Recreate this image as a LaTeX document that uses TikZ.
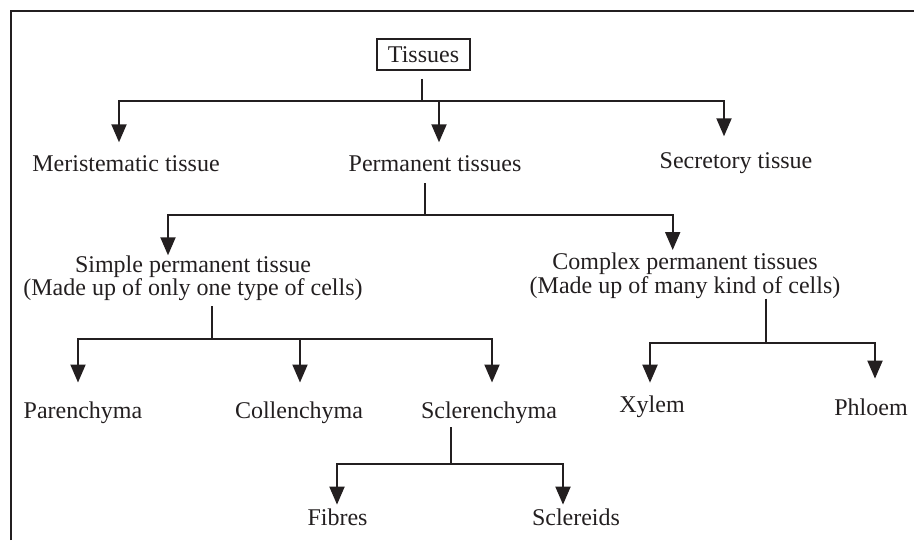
\documentclass[tikz,border=0pt]{standalone}
\usepackage{fontspec}
\setmainfont{Liberation Serif}
\usetikzlibrary{arrows.meta}
\definecolor{ink}{HTML}{231F20}

\begin{document}
\begin{tikzpicture}[x=0.5pt, y=-0.5pt,
    lbl/.style={font=\fontsize{12}{11.7}\selectfont, text=ink, inner sep=0pt},
    word/.style={lbl, anchor=base, text height=8.5pt, text depth=2.5pt},
    twoline/.style={lbl, align=center, anchor=north},
    line/.style={draw=ink, line width=1pt},
    arr/.style={line, -{Triangle[width=7.5pt,length=9pt]}}]
    \useasboundingbox (0,0) rectangle (914,540);

    % frame, cut off on the right and at the bottom
    \draw[line] (11,540) -- (11,11) -- (914,11);

    % the tree
    \node[lbl, draw=ink, line width=1pt, minimum width=46.5pt, minimum height=15.5pt]
        (tis) at (423.5,54.5) {Tissues};
    \node[word] (meri) at (126,171.7) {Meristematic tissue};
    \node[word] (perm) at (435,171.7) {Permanent tissues};
    \node[word] (secr) at (736,168.3) {Secretory tissue};
    \node[twoline] (simp) at (193,255.3) {Simple permanent tissue\\(Made up of only one type of cells)};
    \node[twoline] (comp) at (685,252.6) {Complex permanent tissues\\(Made up of many kind of cells)};
    \node[word] (pare) at (83,418.5) {Parenchyma};
    \node[word] (coll) at (299,418.5) {Collenchyma};
    \node[word] (scle) at (489,418.5) {Sclerenchyma};
    \node[word] (xyl) at (652,412.7) {Xylem};
    \node[word] (phl) at (871,415) {Phloem};
    \node[word] (fib) at (337.5,525) {Fibres};
    \node[word] (scl) at (576,525) {Sclereids};

    % junctions and drop points
    \coordinate (j1) at (421.7,101);
    \coordinate (d-meri) at (119,101);
    \coordinate (d-perm) at (439,101);
    \coordinate (d-secr) at (724,101);

    \coordinate (j2) at (425,215);
    \coordinate (d-simp) at (168,215);
    \coordinate (d-comp) at (672.7,215);

    \coordinate (j3) at (212,338.6);
    \coordinate (d-pare) at (78,338.6);
    \coordinate (d-coll) at (300,338.6);
    \coordinate (d-scle) at (492,338.6);

    \coordinate (j4) at (765.7,343);
    \coordinate (d-xyl) at (650,343);
    \coordinate (d-phl) at (875,343);

    \coordinate (j5) at (451,464);
    \coordinate (d-fib) at (337,464);
    \coordinate (d-scl) at (563,464);

    % Tissues
    \draw[line, shorten <=4pt] (j1 |- tis.south) -- (j1);
    \draw[arr, shorten >=6pt] (j1) -- (d-meri) -- (d-meri |- meri.north);
    \draw[arr, shorten >=7.3pt] (j1) -- (d-secr) -- (d-secr |- secr.north);
    \draw[arr, shorten >=6pt] (d-perm) -- (d-perm |- perm.north);

    % Permanent tissues
    \draw[line, shorten <=3pt] (j2 |- perm.south) -- (j2);
    \draw[arr] (j2) -- (d-simp) -- (d-simp |- simp.north);
    \draw[arr, shorten >=1.3pt] (j2) -- (d-comp) -- (d-comp |- comp.north);

    % simple
    \draw[line, shorten <=2.4pt] (j3 |- simp.south) -- (j3);
    \draw[arr, shorten >=9.3pt] (j3) -- (d-pare) -- (d-pare |- pare.north);
    \draw[arr, shorten >=9.3pt] (j3) -- (d-scle) -- (d-scle |- scle.north);
    \draw[arr, shorten >=9.3pt] (d-coll) -- (d-coll |- coll.north);

    % complex
    \draw[line] (j4 |- comp.south) -- (j4);
    \draw[arr, shorten >=6.3pt] (j4) -- (d-xyl) -- (d-xyl |- xyl.north);
    \draw[arr, shorten >=9.5pt] (j4) -- (d-phl) -- (d-phl |- phl.north);

    % Sclerenchyma
    \draw[line, shorten <=1.7pt] (j5 |- scle.south) -- (j5);
    \draw[arr, shorten >=1.5pt] (j5) -- (d-fib) -- (d-fib |- fib.north);
    \draw[arr, shorten >=1.5pt] (j5) -- (d-scl) -- (d-scl |- scl.north);
\end{tikzpicture}
\end{document}
